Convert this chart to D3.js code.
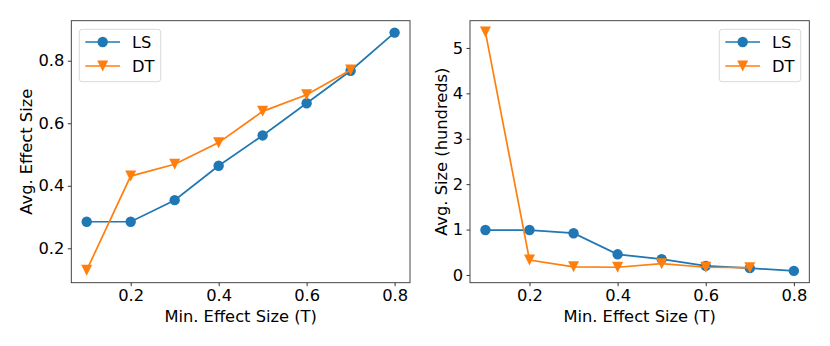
<!DOCTYPE html>
<html>
<head>
<meta charset="utf-8">
<script src="https://cdn.jsdelivr.net/npm/d3@7"></script>
<style>
  body { margin: 0; background: #fff; }
  svg text { font-family: "DejaVu Sans", sans-serif; fill: #000; }
</style>
</head>
<body>
<div class="chart"></div>
<script>
var thresholds = [0.1, 0.2, 0.3, 0.4, 0.5, 0.6, 0.7, 0.8];
var effectLS = [0.285, 0.285, 0.354, 0.464, 0.561, 0.664, 0.768, 0.89];
var effectDT = [0.13, 0.431, 0.469, 0.538, 0.638, 0.691, 0.77];
var sizeLS = [0.99, 0.99, 0.92, 0.455, 0.35, 0.2, 0.15, 0.09];
var sizeDT = [5.35, 0.33, 0.18, 0.17, 0.25, 0.17, 0.16];
var xTicks = [0.2, 0.4, 0.6, 0.8];
var effectTicks = [0.2, 0.4, 0.6, 0.8];
var sizeTicks = [0, 1, 2, 3, 4, 5];

var blue = '#1f77b4';
var orange = '#ff7f0e';
var fontSize = '16.3px';

var svg = d3.select('.chart')
  .append('svg')
    .attr('width', 830)
    .attr('height', 346);

drawPanel({
  left: 71.3, right: 410, top: 20.7, bottom: 282.7,
  yDomain: [0.09, 0.928],
  yTicks: effectTicks,
  yFormat: d3.format('.1f'),
  yLabel: 'Avg. Effect Size',
  ylabelX: 26.7,
  ls: effectLS, dt: effectDT,
  legendX: 79.3
});

drawPanel({
  left: 470, right: 809.3, top: 20.7, bottom: 282.7,
  yDomain: [-0.17, 5.6],
  yTicks: sizeTicks,
  yFormat: d3.format('d'),
  yLabel: 'Avg. Size (hundreds)',
  ylabelX: 441.7,
  ls: sizeLS, dt: sizeDT,
  legendX: 719.3
});

function drawPanel(p) {
  var width = p.right - p.left;
  var height = p.bottom - p.top;
  var g = svg.append('g')
    .attr('transform', 'translate(' + p.left + ', ' + p.top + ')');

  var xScale = d3.scaleLinear().domain([0.065, 0.835]).range([0, width]);
  var yScale = d3.scaleLinear().domain(p.yDomain).range([height, 0]);

  var xAxis = g.append('g')
    .attr('transform', `translate(0, ${height})`)
    .call(d3.axisBottom(xScale).tickValues(xTicks).tickFormat(d3.format('.1f')).tickSizeOuter(0).tickSize(3.5).tickPadding(3.5));
  var yAxis = g.append('g')
    .call(d3.axisLeft(yScale).tickValues(p.yTicks).tickFormat(p.yFormat).tickSizeOuter(0).tickSize(3.5).tickPadding(3.5));
  [xAxis, yAxis].forEach(function (a) {
    a.select('.domain').remove();
    a.selectAll('line').attr('stroke', '#000').attr('stroke-width', 0.8);
    a.selectAll('text').style('font-size', fontSize).style('font-family', '"DejaVu Sans", sans-serif');
  });

  g.append('rect')
    .attr('width', width)
    .attr('height', height)
    .attr('fill', 'none')
    .attr('stroke', '#333')
    .attr('stroke-width', 0.9);

  var line = d3.line()
    .x((d, i) => xScale(thresholds[i]))
    .y(d => yScale(d));

  g.append('path').datum(p.ls)
    .attr('d', line).attr('fill', 'none').attr('stroke', blue).attr('stroke-width', 1.7);
  g.selectAll('.ls').data(p.ls).enter().append('circle')
    .attr('cx', (d, i) => xScale(thresholds[i]))
    .attr('cy', d => yScale(d))
    .attr('r', 5.2)
    .attr('fill', blue);

  g.append('path').datum(p.dt)
    .attr('d', line).attr('fill', 'none').attr('stroke', orange).attr('stroke-width', 1.7);
  g.selectAll('.dt').data(p.dt).enter().append('path')
    .attr('transform', (d, i) => 'translate(' + xScale(thresholds[i]) + ',' + yScale(d) + ')')
    .attr('d', 'M-5.5,-5.5L5.5,-5.5L0,5.5Z')
    .attr('fill', orange);

  // legend
  var lg = svg.append('g').attr('transform', 'translate(' + p.legendX + ', 29.3)');
  lg.append('rect')
    .attr('width', 81.4).attr('height', 52.4).attr('rx', 3)
    .attr('fill', '#fff').attr('fill-opacity', 0.8)
    .attr('stroke', '#d9d9d9').attr('stroke-width', 1);
  var items = [{ name: 'LS', color: blue, y: 12.7 }, { name: 'DT', color: orange, y: 36.7 }];
  items.forEach(function (it) {
    lg.append('line').attr('x1', 6).attr('x2', 40.7).attr('y1', it.y).attr('y2', it.y)
      .attr('stroke', it.color).attr('stroke-width', 1.7);
    if (it.name === 'LS') {
      lg.append('circle').attr('cx', 23.4).attr('cy', it.y).attr('r', 5.2).attr('fill', it.color);
    } else {
      lg.append('path').attr('transform', 'translate(23.4,' + it.y + ')')
        .attr('d', 'M-5.5,-5.5L5.5,-5.5L0,5.5Z').attr('fill', it.color);
    }
    lg.append('text').attr('x', 52.7).attr('y', it.y).attr('dy', '0.35em')
      .style('font-size', fontSize).text(it.name);
  });

  g.append('text')
    .attr('x', width / 2).attr('y', height + 39)
    .attr('text-anchor', 'middle')
    .style('font-size', fontSize)
    .text('Min. Effect Size (T)');
  g.append('text')
    .attr('transform', 'translate(' + (p.ylabelX - p.left) + ',' + height / 2 + ') rotate(-90)')
    .attr('text-anchor', 'middle')
    .attr('dy', '0.35em')
    .style('font-size', fontSize)
    .text(p.yLabel);
}
</script>
</body>
</html>
